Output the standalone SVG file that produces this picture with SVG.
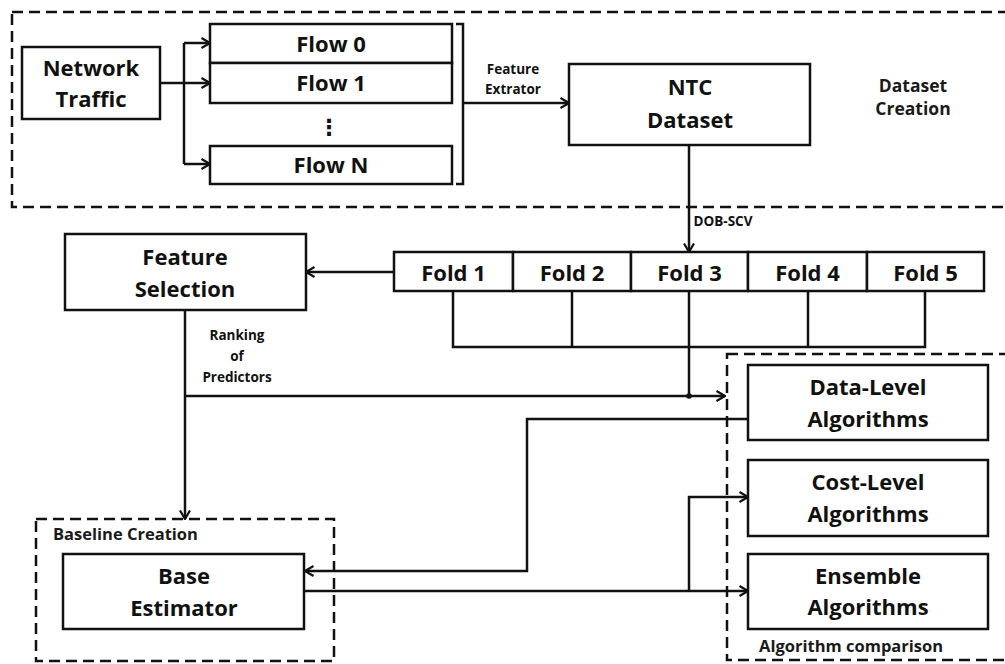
<svg xmlns="http://www.w3.org/2000/svg" width="1005" height="664" viewBox="0 0 1005 664">
  <style>
    .box { fill: #fff; stroke: #111; stroke-width: 2.5; }
    .zone { fill: none; stroke: #111; stroke-width: 2.5; stroke-dasharray: 11 6; }
    .wire { fill: none; stroke: #111; stroke-width: 2.5; }
    .lbl { font-family: "Open Sans", "Noto Sans", sans-serif; font-weight: 700; font-size: 22px; fill: #111; text-anchor: middle; }
    .small { font-family: "Open Sans", "Noto Sans", sans-serif; font-weight: 700; font-size: 13.5px; fill: #111; text-anchor: middle; }
    .zlbl { font-family: "Open Sans", "Noto Sans", sans-serif; font-weight: 700; font-size: 16.5px; fill: #1a1a1a; }
    .zlbl.big { font-size: 17.5px; text-anchor: middle; }
  </style>
  <defs>
    <marker id="arr" viewBox="0 0 10 12" refX="9.5" refY="6" markerWidth="10" markerHeight="12" markerUnits="userSpaceOnUse" orient="auto">
      <path d="M1,1 L9.5,6 L1,11" fill="none" stroke="#111" stroke-width="2.2"/>
    </marker>
  </defs>
  <rect width="1005" height="664" fill="#fff"/>

  <!-- dashed stage regions -->
  <g id="zones">
    <rect class="zone" x="12" y="12" width="1010" height="195"/>
    <text class="zlbl big" x="913" y="92">Dataset</text>
    <text class="zlbl big" x="913" y="115">Creation</text>
    <rect class="zone" x="36" y="519" width="298" height="142"/>
    <text class="zlbl" x="53" y="540">Baseline Creation</text>
    <rect class="zone" x="727" y="354" width="300" height="306"/>
    <text class="zlbl" x="759" y="652">Algorithm comparison</text>
  </g>

  <!-- connectors -->
  <g id="connectors">
    <path class="wire" d="M160,83 H184"/>
    <path class="wire" d="M184,43 V164"/>
    <path class="wire" d="M184,43 H210" marker-end="url(#arr)"/>
    <path class="wire" d="M184,83 H210" marker-end="url(#arr)"/>
    <path class="wire" d="M184,164 H210" marker-end="url(#arr)"/>
    <path class="wire" d="M456,24 H463 V184 H456"/>
    <path class="wire" d="M463,103 H569" marker-end="url(#arr)"/>
    <text class="small" x="513" y="74">Feature</text>
    <text class="small" x="513" y="94">Extrator</text>
    <path class="wire" d="M689,145 V252" marker-end="url(#arr)"/>
    <text class="small" x="723" y="226">DOB-SCV</text>
    <path class="wire" d="M394,272 H306" marker-end="url(#arr)"/>
    <path class="wire" d="M453,291 V347 H925 V291"/>
    <path class="wire" d="M572,291 V347"/>
    <path class="wire" d="M808,291 V347"/>
    <path class="wire" d="M689,291 V396"/>
    <path class="wire" d="M185,310 V519" marker-end="url(#arr)"/>
    <text class="small" x="237" y="340">Ranking</text>
    <text class="small" x="237" y="361">of</text>
    <text class="small" x="237" y="382">Predictors</text>
    <path class="wire" d="M185,396 H725" marker-end="url(#arr)"/>
    <circle cx="689" cy="396" r="2.8" fill="#111"/>
    <path class="wire" d="M748,419 H527 V571 H305" marker-end="url(#arr)"/>
    <path class="wire" d="M304,591 H748" marker-end="url(#arr)"/>
    <path class="wire" d="M689,591 V497 H748" marker-end="url(#arr)"/>
  </g>

  <g id="network-traffic">
    <rect class="box" x="22" y="47" width="138" height="72"/>
    <text class="lbl" x="91" y="76">Network</text>
    <text class="lbl" x="91" y="107">Traffic</text>
  </g>
  <g id="flow-0">
    <rect class="box" x="210" y="24" width="242" height="39"/>
    <text class="lbl" x="331" y="52">Flow 0</text>
  </g>
  <g id="flow-1">
    <rect class="box" x="210" y="63" width="242" height="40"/>
    <text class="lbl" x="331" y="91">Flow 1</text>
  </g>
  <g id="flow-ellipsis">
    <text x="329" y="135" font-family="DejaVu Sans, sans-serif" font-weight="700" font-size="22" text-anchor="middle" fill="#111">⋮</text>
  </g>
  <g id="flow-n">
    <rect class="box" x="210" y="146" width="242" height="38"/>
    <text class="lbl" x="331" y="173">Flow N</text>
  </g>
  <g id="ntc-dataset">
    <rect class="box" x="569" y="64" width="241" height="81"/>
    <text class="lbl" x="690" y="95">NTC</text>
    <text class="lbl" x="690" y="128">Dataset</text>
  </g>
  <g id="feature-selection">
    <rect class="box" x="65" y="234" width="241" height="76"/>
    <text class="lbl" x="185" y="265">Feature</text>
    <text class="lbl" x="185" y="297">Selection</text>
  </g>
  <g id="folds">
    <rect class="box" x="394" y="252" width="119" height="39"/>
    <text class="lbl" x="453.5" y="281">Fold 1</text>
    <rect class="box" x="513" y="252" width="118" height="39"/>
    <text class="lbl" x="572" y="281">Fold 2</text>
    <rect class="box" x="631" y="252" width="117" height="39"/>
    <text class="lbl" x="689.5" y="281">Fold 3</text>
    <rect class="box" x="748" y="252" width="119" height="39"/>
    <text class="lbl" x="807.5" y="281">Fold 4</text>
    <rect class="box" x="867" y="252" width="117" height="39"/>
    <text class="lbl" x="925.5" y="281">Fold 5</text>
  </g>
  <g id="data-level">
    <rect class="box" x="748" y="365" width="240" height="75"/>
    <text class="lbl" x="868" y="395">Data-Level</text>
    <text class="lbl" x="868" y="427">Algorithms</text>
  </g>
  <g id="cost-level">
    <rect class="box" x="748" y="460" width="240" height="76"/>
    <text class="lbl" x="868" y="490">Cost-Level</text>
    <text class="lbl" x="868" y="522">Algorithms</text>
  </g>
  <g id="ensemble">
    <rect class="box" x="748" y="554" width="240" height="75"/>
    <text class="lbl" x="868" y="584">Ensemble</text>
    <text class="lbl" x="868" y="615">Algorithms</text>
  </g>
  <g id="base-estimator">
    <rect class="box" x="63" y="554" width="241" height="75"/>
    <text class="lbl" x="184" y="584">Base</text>
    <text class="lbl" x="184" y="616">Estimator</text>
  </g>
</svg>
